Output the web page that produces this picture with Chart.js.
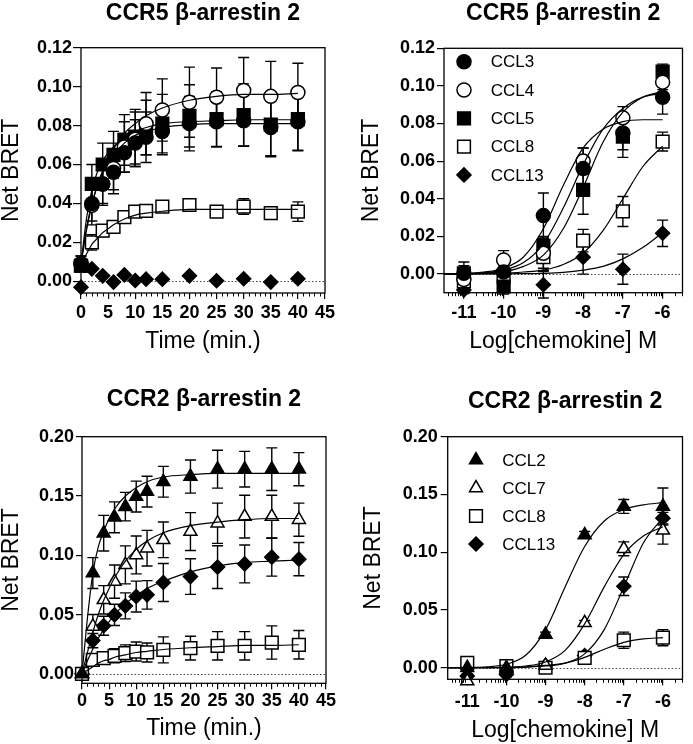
<!DOCTYPE html>
<html>
<head>
<meta charset="utf-8">
<script src="https://cdn.jsdelivr.net/npm/chart.js"></script>
<style>
  html, body { margin: 0; padding: 0; background: #fff; }
  body { width: 693px; height: 744px; position: relative; overflow: hidden; }
  .panel { position: absolute; }
</style>
</head>
<body>
<div class="panel" style="left:0;top:0;width:346px;height:370px"><canvas id="c1"></canvas></div>
<div class="panel" style="left:346px;top:0;width:347px;height:370px"><canvas id="c2"></canvas></div>
<div class="panel" style="left:0;top:370px;width:346px;height:374px"><canvas id="c3"></canvas></div>
<div class="panel" style="left:346px;top:370px;width:347px;height:374px"><canvas id="c4"></canvas></div>
<script>
// x values
const timePoints = [0, 2, 4, 6, 8, 10, 12, 15, 20, 25, 30, 35, 40];
const logDoses = [-11, -10, -9, -8, -7, -6];
const timeTicks = [0, 5, 10, 15, 20, 25, 30, 35, 40, 45];
const doseTicks = [-11, -10, -9, -8, -7, -6];
const ccr5Ticks = [0, 0.02, 0.04, 0.06, 0.08, 0.10, 0.12];
const ccr2Ticks = [0, 0.05, 0.10, 0.15, 0.20];

// CCR5 time course (mean, error)
const ccr5TimeCCL3 = [0.009, 0.040, 0.050, 0.056, 0.066, 0.071, 0.074, 0.077, 0.081, 0.082, 0.0825, 0.079, 0.082];
const ccr5TimeCCL3Err = [0.004, 0.009, 0.010, 0.009, 0.010, 0.012, 0.013, 0.012, 0.014, 0.013, 0.013, 0.015, 0.015];
const ccr5TimeCCL4 = [0.009, 0.039, 0.050, 0.058, 0.069, 0.073, 0.081, 0.088, 0.092, 0.0946, 0.098, 0.095, 0.097];
const ccr5TimeCCL4Err = [0.004, 0.010, 0.011, 0.013, 0.013, 0.014, 0.016, 0.016, 0.018, 0.015, 0.017, 0.018, 0.015];
const ccr5TimeCCL5 = [0.008, 0.050, 0.060, 0.065, 0.0726, 0.0743, 0.079, 0.081, 0.085, 0.0833, 0.0854, 0.0805, 0.0833];
const ccr5TimeCCL5Err = [0.003, 0.010, 0.011, 0.012, 0.013, 0.014, 0.014, 0.015, 0.016, 0.014, 0.016, 0.016, 0.016];
const ccr5TimeCCL8 = [0.008, 0.020, 0.026, 0.028, 0.033, 0.0358, 0.0362, 0.0384, 0.0392, 0.0358, 0.0384, 0.035, 0.0358];
const ccr5TimeCCL8Err = [0.003, 0.004, 0.003, 0.002, 0.002, 0.002, 0.002, 0.002, 0.002, 0.002, 0.004, 0.002, 0.005];
const ccr5TimeCCL13 = [-0.003, 0.0064, 0.0028, -0.0004, 0.0033, 0.0004, 0.0011, 0.0011, 0.0028, 0.0003, 0.0013, -0.0004, 0.0013];

// CCR5 fitted curves
const curveTime = [0, 1, 2, 3, 4, 5, 6, 8, 10, 12, 15, 20, 25, 30, 35, 40];
const ccr5TimeFitCCL3 = [0.009, 0.027, 0.040, 0.049, 0.056, 0.061, 0.065, 0.071, 0.075, 0.077, 0.079, 0.0805, 0.081, 0.081, 0.081, 0.081];
const ccr5TimeFitCCL4 = [0.009, 0.026, 0.039, 0.049, 0.057, 0.063, 0.068, 0.076, 0.081, 0.085, 0.089, 0.093, 0.095, 0.096, 0.096, 0.0965];
const ccr5TimeFitCCL5 = [0.009, 0.032, 0.047, 0.056, 0.062, 0.066, 0.069, 0.074, 0.077, 0.079, 0.081, 0.082, 0.0825, 0.083, 0.083, 0.083];
const ccr5TimeFitCCL8 = [0.009, 0.014, 0.019, 0.022, 0.025, 0.027, 0.029, 0.032, 0.034, 0.035, 0.036, 0.037, 0.037, 0.037, 0.037, 0.037];

// CCR5 dose response
const ccr5DoseCCL3 = [0.0003, 0.001, 0.031, 0.056, 0.075, 0.094];
const ccr5DoseCCL3Err = [0.004, 0.004, 0.012, 0.011, 0.009, 0.009];
const ccr5DoseCCL4 = [-0.003, 0.0074, 0.011, 0.060, 0.083, 0.102];
const ccr5DoseCCL4Err = [0.004, 0.005, 0.008, 0.007, 0.006, 0.004];
const ccr5DoseCCL5 = [0.0003, -0.0067, 0.0149, 0.0447, 0.073, 0.1076];
const ccr5DoseCCL5Err = [0.006, 0.004, 0.005, 0.013, 0.011, 0.004];
const ccr5DoseCCL8 = [-0.004, -0.0014, 0.0089, 0.0177, 0.0332, 0.0704];
const ccr5DoseCCL8Err = [0.003, 0.004, 0.007, 0.006, 0.008, 0.005];
const ccr5DoseCCL13 = [-0.0085, 0.002, -0.0058, 0.0089, 0.0025, 0.0216];
const ccr5DoseCCL13Err = [0.002, 0.002, 0.007, 0.009, 0.008, 0.007];

const curveDose = [-11.5, -11, -10.5, -10, -9.5, -9, -8.5, -8, -7.5, -7, -6.5, -6];
const ccr5DoseFitCCL3 = [0, 0.0003, 0.001, 0.003, 0.009, 0.024, 0.047, 0.067, 0.077, 0.081, 0.082, 0.082];
const ccr5DoseFitCCL4 = [0, 0.0002, 0.0007, 0.002, 0.006, 0.016, 0.035, 0.058, 0.077, 0.088, 0.094, 0.096];
const ccr5DoseFitCCL5 = [0, 0.0001, 0.0004, 0.0012, 0.004, 0.010, 0.024, 0.046, 0.070, 0.086, 0.094, 0.097];
const ccr5DoseFitCCL8 = [0, 0, 0.0001, 0.0003, 0.001, 0.002, 0.005, 0.011, 0.023, 0.040, 0.057, 0.068];
const ccr5DoseFitCCL13 = [0, 0, 0, 0, 0.0001, 0.0003, 0.0008, 0.002, 0.004, 0.008, 0.014, 0.022];

// CCR2 time course
const ccr2TimeCCL2 = [0, 0.085, 0.1186, 0.132, 0.141, 0.1495, 0.1537, 0.162, 0.1664, 0.1726, 0.1726, 0.1726, 0.1726];
const ccr2TimeCCL2Err = [0.002, 0.013, 0.015, 0.013, 0.012, 0.013, 0.013, 0.013, 0.014, 0.016, 0.015, 0.018, 0.014];
const ccr2TimeCCL7 = [0, 0.040, 0.0624, 0.0778, 0.0919, 0.1003, 0.106, 0.113, 0.120, 0.127, 0.1326, 0.1326, 0.130];
const ccr2TimeCCL7Err = [0.002, 0.010, 0.012, 0.014, 0.016, 0.016, 0.015, 0.015, 0.016, 0.017, 0.018, 0.018, 0.014];
const ccr2TimeCCL8 = [0, 0.0118, 0.0132, 0.0152, 0.0174, 0.0188, 0.018, 0.0202, 0.0217, 0.0236, 0.0236, 0.0264, 0.0245];
const ccr2TimeCCL8Err = [0.002, 0.004, 0.005, 0.006, 0.007, 0.008, 0.008, 0.011, 0.010, 0.012, 0.012, 0.014, 0.012];
const ccr2TimeCCL13 = [0, 0.028, 0.0405, 0.0497, 0.0573, 0.0652, 0.0666, 0.077, 0.082, 0.090, 0.0927, 0.0984, 0.0967];
const ccr2TimeCCL13Err = [0.002, 0.006, 0.008, 0.009, 0.011, 0.013, 0.012, 0.016, 0.015, 0.018, 0.016, 0.016, 0.014];

const ccr2TimeFitCCL2 = [0, 0.047, 0.085, 0.107, 0.120, 0.131, 0.139, 0.150, 0.157, 0.162, 0.166, 0.168, 0.169, 0.169, 0.169, 0.169];
const ccr2TimeFitCCL7 = [0, 0.018, 0.035, 0.050, 0.062, 0.072, 0.081, 0.095, 0.105, 0.112, 0.119, 0.125, 0.128, 0.130, 0.131, 0.131];
const ccr2TimeFitCCL8 = [0, 0.003, 0.006, 0.009, 0.011, 0.012, 0.014, 0.016, 0.018, 0.019, 0.0205, 0.022, 0.023, 0.024, 0.024, 0.0245];
const ccr2TimeFitCCL13 = [0, 0.011, 0.021, 0.030, 0.037, 0.044, 0.050, 0.059, 0.066, 0.072, 0.078, 0.086, 0.091, 0.094, 0.095, 0.096];

// CCR2 dose response
const ccr2DoseCCL2 = [0, 0, 0.0288, 0.115, 0.1396, 0.1396];
const ccr2DoseCCL2Err = [0.002, 0.002, 0.002, 0.003, 0.006, 0.016];
const ccr2DoseCCL7 = [-0.0115, -0.001, 0.002, 0.0389, 0.103, 0.119];
const ccr2DoseCCL7Err = [0.002, 0.002, 0.002, 0.002, 0.006, 0.012];
const ccr2DoseCCL8 = [0.0043, 0.0014, 0, 0.0086, 0.0238, 0.026];
const ccr2DoseCCL8Err = [0.004, 0.003, 0.004, 0.004, 0.007, 0.007];
const ccr2DoseCCL13 = [-0.0072, -0.0058, 0.002, 0.0106, 0.0705, 0.1295];
const ccr2DoseCCL13Err = [0.002, 0.002, 0.003, 0.003, 0.008, 0.005];

const ccr2DoseFitCCL2 = [0, 0.0002, 0.0008, 0.003, 0.011, 0.033, 0.070, 0.105, 0.127, 0.137, 0.141, 0.143];
const ccr2DoseFitCCL7 = [0, 0, 0.0001, 0.0005, 0.0015, 0.005, 0.015, 0.038, 0.070, 0.098, 0.114, 0.122];
const ccr2DoseFitCCL8 = [0, 0, 0.0001, 0.0003, 0.0008, 0.002, 0.004, 0.009, 0.016, 0.022, 0.025, 0.026];
const ccr2DoseFitCCL13 = [0, 0, 0, 0.0001, 0.0005, 0.0015, 0.004, 0.012, 0.033, 0.070, 0.108, 0.130];

const FONT = "'Liberation Sans', Arial, Helvetica, sans-serif";

// minor tick positions for the axes
const timeMinor = [];
for (let t = 0; t <= 45; t++) if (t % 5) timeMinor.push(t);
const doseMinor = [];
for (let d = -12; d <= -6; d++) for (let k = 2; k <= 9; k++) {
  const v = d + Math.log10(k);
  if (v > -11.5 && v < -5.5) doseMinor.push(v);
}

function markerSet(label, xs, ys, errs, style, filled, radius) {
  return {
    label: label, legendLabel: label, errorBars: errs,
    data: xs.map((x, i) => ({ x: x, y: ys[i] })),
    showLine: false, pointStyle: style, pointRadius: radius, pointHoverRadius: radius,
    pointBackgroundColor: filled ? '#000' : '#fff', pointBorderColor: '#000', pointBorderWidth: 1.5,
    clip: false, order: 1
  };
}

function curveSet(xs, ys) {
  return {
    data: xs.map((x, i) => ({ x: x, y: ys[i] })),
    showLine: true, pointRadius: 0, pointHoverRadius: 0, borderColor: '#000', borderWidth: 1.2,
    cubicInterpolationMode: 'monotone', fill: false, order: 0
  };
}

const decor = {
  id: 'decor',
  beforeDatasetsDraw(chart, args, opts) {
    const { ctx, chartArea: a } = chart;
    const x = chart.scales.x, y = chart.scales.y;
    ctx.save();
    ctx.strokeStyle = '#444';
    ctx.lineWidth = 1;
    ctx.setLineDash([1.5, 2]);
    const y0 = Math.round(y.getPixelForValue(0)) + 0.5;
    ctx.beginPath(); ctx.moveTo(a.left, y0); ctx.lineTo(a.right, y0); ctx.stroke();
    ctx.setLineDash([]);
    ctx.strokeStyle = '#000';
    ctx.lineWidth = 1.4;
    chart.data.datasets.forEach(ds => {
      if (!ds.errorBars) return;
      ds.data.forEach((p, i) => {
        const e = ds.errorBars[i];
        if (!e) return;
        const px = x.getPixelForValue(p.x);
        const t = y.getPixelForValue(p.y + e), b = y.getPixelForValue(p.y - e);
        ctx.beginPath();
        ctx.moveTo(px, t); ctx.lineTo(px, b);
        ctx.moveTo(px - 5.5, t); ctx.lineTo(px + 5.5, t);
        ctx.moveTo(px - 5.5, b); ctx.lineTo(px + 5.5, b);
        ctx.stroke();
      });
    });
    ctx.restore();
  },
  afterDraw(chart, args, opts) {
    const { ctx, chartArea: a } = chart;
    const x = chart.scales.x;
    ctx.save();
    ctx.strokeStyle = '#000';
    ctx.lineWidth = 1.3;
    ctx.strokeRect(a.left, a.top, a.right - a.left, a.bottom - a.top);
    ctx.lineWidth = 1;
    ctx.beginPath();
    (opts.minorX || []).forEach(v => {
      const px = Math.round(x.getPixelForValue(v)) + 0.5;
      ctx.moveTo(px, a.bottom); ctx.lineTo(px, a.bottom + 3.5);
    });
    ctx.stroke();
    if (opts.legend) {
      const L = opts.legend;
      let row = 0;
      chart.data.datasets.forEach(ds => {
        if (!ds.legendLabel) return;
        const cx = a.left + L.dx, cy = a.top + L.dy + row * L.step;
        ctx.fillStyle = ds.pointBackgroundColor;
        ctx.strokeStyle = '#000';
        ctx.lineWidth = 1.5;
        Chart.helpers.drawPoint(ctx, { pointStyle: ds.pointStyle, radius: ds.pointRadius, rotation: 0, borderWidth: 1.5 }, cx, cy);
        ctx.fillStyle = '#000';
        ctx.font = '17px ' + FONT;
        ctx.textAlign = 'left';
        ctx.textBaseline = 'middle';
        ctx.fillText(ds.legendLabel, a.left + L.tx, cy + 1);
        row++;
      });
    }
    ctx.restore();
  }
};

function makeChart(id, cfg) {
  const tickFont = { family: FONT, size: 18, weight: 'bold' };
  const axisFont = { family: FONT, size: 23, weight: 'normal' };
  return new Chart(document.getElementById(id), {
    type: 'scatter',
    data: { datasets: cfg.datasets },
    plugins: [decor],
    options: {
      responsive: true, maintainAspectRatio: false, animation: false,
      layout: { padding: { left: 0, right: cfg.padRight, top: 0, bottom: 0 } },
      plugins: {
        legend: { display: false },
        tooltip: { enabled: false },
        title: {
          display: true, text: cfg.title, color: '#000', fullSize: false,
          font: { family: FONT, size: 23, weight: 'bold', lineHeight: 1.2 },
          padding: cfg.titlePad
        },
        decor: { minorX: cfg.minorX, legend: cfg.legend }
      },
      scales: {
        x: {
          type: 'linear', min: cfg.xMin, max: cfg.xMax,
          afterBuildTicks: s => { s.ticks = cfg.xTicks.map(v => ({ value: v })); },
          afterFit: s => { s.height = cfg.xHeight; },
          ticks: { color: '#000', font: tickFont, padding: cfg.xTickPad, maxRotation: 0, autoSkip: false, callback: v => String(v) },
          grid: { drawOnChartArea: false, drawTicks: true, tickLength: 6, color: '#000', lineWidth: 1.2 },
          border: { display: false },
          title: { display: true, text: cfg.xTitle, color: '#000', font: axisFont, padding: { top: 0, bottom: cfg.xTitlePad } }
        },
        y: {
          type: 'linear', min: cfg.yMin, max: cfg.yMax,
          afterBuildTicks: s => { s.ticks = cfg.yTicks.map(v => ({ value: v })); },
          afterFit: s => { s.width = cfg.yWidth; },
          ticks: { color: '#000', font: tickFont, padding: cfg.yTickPad, autoSkip: false, callback: v => v.toFixed(2) },
          grid: { drawOnChartArea: false, drawTicks: true, tickLength: cfg.yTickLen, color: '#000', lineWidth: 1.2 },
          border: { display: false },
          title: { display: true, text: 'Net BRET', color: '#000', font: { family: FONT, size: 23, lineHeight: 1 }, padding: { top: cfg.yTitlePad, bottom: 0 } }
        }
      }
    }
  });
}

makeChart('c1', {
  title: 'CCR5 \u03b2-arrestin 2', titlePad: { top: 0, bottom: 20.1 }, padRight: 21,
  xMin: 0, xMax: 45, xTicks: timeTicks, xHeight: 77, xTickPad: 3, xTitle: 'Time (min.)', xTitlePad: 14.5,
  yMin: -0.006, yMax: 0.12, yTicks: ccr5Ticks, yWidth: 81, yTickPad: 1, yTickLen: 8, yTitlePad: 0,
  minorX: timeMinor,
  datasets: [
    markerSet('CCL3', timePoints, ccr5TimeCCL3, ccr5TimeCCL3Err, 'circle', true, 7),
    markerSet('CCL4', timePoints, ccr5TimeCCL4, ccr5TimeCCL4Err, 'circle', false, 7),
    markerSet('CCL5', timePoints, ccr5TimeCCL5, ccr5TimeCCL5Err, 'rect', true, 9),
    markerSet('CCL8', timePoints, ccr5TimeCCL8, ccr5TimeCCL8Err, 'rect', false, 9),
    markerSet('CCL13', timePoints, ccr5TimeCCL13, null, 'rectRot', true, 7),
    curveSet(curveTime, ccr5TimeFitCCL3),
    curveSet(curveTime, ccr5TimeFitCCL4),
    curveSet(curveTime, ccr5TimeFitCCL5),
    curveSet(curveTime, ccr5TimeFitCCL8)
  ]
});

makeChart('c2', {
  title: 'CCR5 \u03b2-arrestin 2', titlePad: { top: 0, bottom: 20.7 }, padRight: 5,
  xMin: -11.5, xMax: -5.5, xTicks: doseTicks, xHeight: 77.3, xTickPad: 4, xTitle: 'Log[chemokine] M', xTitlePad: 14.5,
  yMin: -0.01, yMax: 0.12, yTicks: ccr5Ticks, yWidth: 98, yTickPad: 2, yTickLen: 7, yTitlePad: 14,
  minorX: doseMinor,
  legend: { dx: 20, dy: 13.4, step: 28.3, tx: 46.7 },
  datasets: [
    markerSet('CCL3', logDoses, ccr5DoseCCL3, ccr5DoseCCL3Err, 'circle', true, 7),
    markerSet('CCL4', logDoses, ccr5DoseCCL4, ccr5DoseCCL4Err, 'circle', false, 7),
    markerSet('CCL5', logDoses, ccr5DoseCCL5, ccr5DoseCCL5Err, 'rect', true, 9),
    markerSet('CCL8', logDoses, ccr5DoseCCL8, ccr5DoseCCL8Err, 'rect', false, 9),
    markerSet('CCL13', logDoses, ccr5DoseCCL13, ccr5DoseCCL13Err, 'rectRot', true, 7),
    curveSet(curveDose, ccr5DoseFitCCL3),
    curveSet(curveDose, ccr5DoseFitCCL4),
    curveSet(curveDose, ccr5DoseFitCCL5),
    curveSet(curveDose, ccr5DoseFitCCL8),
    curveSet(curveDose, ccr5DoseFitCCL13)
  ]
});

makeChart('c3', {
  title: 'CCR2 \u03b2-arrestin 2', titlePad: { top: 16.2, bottom: 22.9 }, padRight: 20,
  xMin: 0, xMax: 45, xTicks: timeTicks, xHeight: 60.7, xTickPad: 1, xTitle: 'Time (min.)', xTitlePad: 1.2,
  yMin: -0.008, yMax: 0.2, yTicks: ccr2Ticks, yWidth: 82, yTickPad: 2, yTickLen: 6, yTitlePad: 0,
  minorX: timeMinor,
  datasets: [
    markerSet('CCL2', timePoints, ccr2TimeCCL2, ccr2TimeCCL2Err, 'triangle', true, 7.5),
    markerSet('CCL7', timePoints, ccr2TimeCCL7, ccr2TimeCCL7Err, 'triangle', false, 7.5),
    markerSet('CCL8', timePoints, ccr2TimeCCL8, ccr2TimeCCL8Err, 'rect', false, 9),
    markerSet('CCL13', timePoints, ccr2TimeCCL13, ccr2TimeCCL13Err, 'rectRot', true, 7),
    curveSet(curveTime, ccr2TimeFitCCL2),
    curveSet(curveTime, ccr2TimeFitCCL7),
    curveSet(curveTime, ccr2TimeFitCCL8),
    curveSet(curveTime, ccr2TimeFitCCL13)
  ]
});

makeChart('c4', {
  title: 'CCR2 \u03b2-arrestin 2', titlePad: { top: 17.9, bottom: 21.2 }, padRight: 1,
  xMin: -11.5, xMax: -5.5, xTicks: doseTicks, xHeight: 64.7, xTickPad: 5.6, xTitle: 'Log[chemokine] M', xTitlePad: 0,
  yMin: -0.01, yMax: 0.2, yTicks: ccr2Ticks, yWidth: 101.7, yTickPad: 3, yTickLen: 7, yTitlePad: 16.5,
  minorX: doseMinor,
  legend: { dx: 28.3, dy: 23.3, step: 28, tx: 54.6 },
  datasets: [
    markerSet('CCL2', logDoses, ccr2DoseCCL2, ccr2DoseCCL2Err, 'triangle', true, 7.5),
    markerSet('CCL7', logDoses, ccr2DoseCCL7, ccr2DoseCCL7Err, 'triangle', false, 7.5),
    markerSet('CCL8', logDoses, ccr2DoseCCL8, ccr2DoseCCL8Err, 'rect', false, 9),
    markerSet('CCL13', logDoses, ccr2DoseCCL13, ccr2DoseCCL13Err, 'rectRot', true, 7),
    curveSet(curveDose, ccr2DoseFitCCL2),
    curveSet(curveDose, ccr2DoseFitCCL7),
    curveSet(curveDose, ccr2DoseFitCCL8),
    curveSet(curveDose, ccr2DoseFitCCL13)
  ]
});
</script>
</body>
</html>
